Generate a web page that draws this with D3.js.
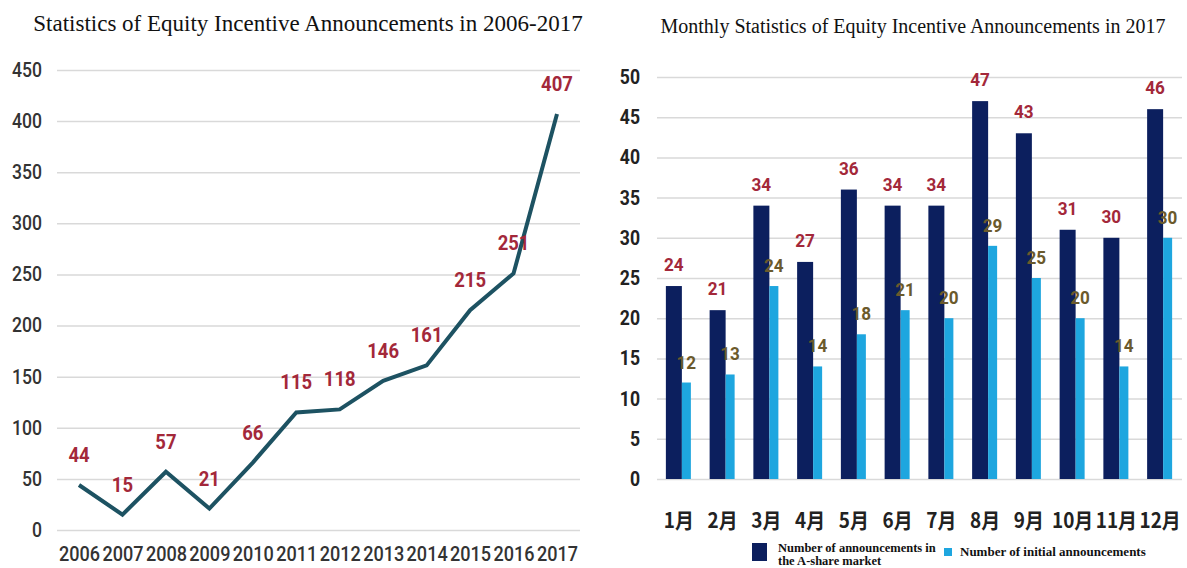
<!DOCTYPE html>
<html>
<head>
<meta charset="utf-8">
<script src="https://cdn.jsdelivr.net/npm/d3@7"></script>
<style>
  body { margin: 0; background: #fff; }
  svg { display: block; }
</style>
</head>
<body>
<svg id="chart" width="1187" height="568"></svg>
<script>
// yearly totals (left chart)
var years = ['2006','2007','2008','2009','2010','2011','2012','2013','2014','2015','2016','2017'];
var yearCounts = [44, 15, 57, 21, 66, 115, 118, 146, 161, 215, 251, 407];
var leftTicks = [0, 50, 100, 150, 200, 250, 300, 350, 400, 450];

// monthly 2017 (right chart)
var months = ['1月','2月','3月','4月','5月','6月','7月','8月','9月','10月','11月','12月'];
var aShareCounts = [24, 21, 34, 27, 36, 34, 34, 47, 43, 31, 30, 46];
var initialCounts = [12, 13, 24, 14, 18, 21, 20, 29, 25, 20, 14, 30];
var rightTicks = [0, 5, 10, 15, 20, 25, 30, 35, 40, 45, 50];

var leftTitle = 'Statistics of Equity Incentive Announcements in 2006-2017';
var rightTitle = 'Monthly Statistics of Equity Incentive Announcements in 2017';
var legendA = ['Number of announcements in', 'the A-share market'];
var legendB = 'Number of initial announcements';

var numFont = "Roboto, 'Open Sans', sans-serif";
var serif = "'Liberation Serif', 'Times New Roman', serif";
var svg = d3.select('#chart');

// the source picture is squashed sideways, so narrow the glyphs a bit
function squeeze(sel, k) {
  sel.each(function() {
    var w = this.getComputedTextLength();
    d3.select(this).attr('textLength', w * k).attr('lengthAdjust', 'spacingAndGlyphs');
  });
}

drawLine();
drawBars();

function drawLine() {
  var x = d3.scalePoint().domain(years).range([79, 557]);
  var y = d3.scaleLinear().domain([0, 450]).range([530, 70]);

  svg.append('text')
    .attr('x', 308).attr('y', 31)
    .attr('text-anchor', 'middle')
    .style('font-family', serif).style('font-size', '23px').attr('fill', '#111')
    .text(leftTitle);

  var yAxis = svg.append('g')
    .attr('transform', 'translate(57,0)')
    .call(d3.axisLeft(y).tickValues(leftTicks).tickSize(-523).tickPadding(15));
  yAxis.select('.domain').remove();
  yAxis.selectAll('line').attr('stroke', '#d9d9d9').attr('stroke-width', 1.5);
  yAxis.selectAll('text')
    .style('font-family', numFont).style('font-size', '20px').style('font-weight', '500')
    .attr('fill', '#333');
  squeeze(yAxis.selectAll('text'), 0.88);

  var xAxis = svg.append('g')
    .attr('transform', 'translate(0,530)')
    .call(d3.axisBottom(x).tickSize(0).tickPadding(16));
  xAxis.select('.domain').remove();
  xAxis.selectAll('text')
    .style('font-family', numFont).style('font-size', '21px').style('font-weight', '500')
    .attr('fill', '#333');
  squeeze(xAxis.selectAll('text'), 0.86);

  var line = d3.line()
    .x(function(d, i) { return x(years[i]); })
    .y(function(d) { return y(d); });

  svg.append('path')
    .datum(yearCounts)
    .attr('d', line)
    .attr('fill', 'none')
    .attr('stroke', '#1d5262')
    .attr('stroke-width', 4);

  var labels = svg.append('g').selectAll('text')
    .data(yearCounts)
    .enter().append('text')
    .attr('x', function(d, i) { return x(years[i]); })
    .attr('y', function(d) { return y(d) - 23; })
    .attr('text-anchor', 'middle')
    .style('font-family', numFont).style('font-size', '21px').style('font-weight', 'bold')
    .attr('fill', '#a3283a')
    .text(function(d) { return d; });
  squeeze(labels, 0.88);
}

function drawBars() {
  var x = d3.scaleBand().domain(months).range([657, 1182]);
  var y = d3.scaleLinear().domain([0, 50]).range([479, 77]);
  var half = x.bandwidth() / 2;

  svg.append('text')
    .attr('x', 913).attr('y', 33)
    .attr('text-anchor', 'middle')
    .style('font-family', serif).style('font-size', '20px').attr('fill', '#111')
    .text(rightTitle);

  var yAxis = svg.append('g')
    .attr('transform', 'translate(657,0)')
    .call(d3.axisLeft(y).tickValues(rightTicks).tickSize(-525).tickPadding(17));
  yAxis.select('.domain').remove();
  yAxis.selectAll('line').attr('stroke', '#d9d9d9').attr('stroke-width', 1.5);
  yAxis.selectAll('text')
    .style('font-family', numFont).style('font-size', '20px').style('font-weight', 'bold')
    .attr('fill', '#222');
  squeeze(yAxis.selectAll('text'), 0.88);

  var xAxis = svg.append('g')
    .attr('transform', 'translate(0,479)')
    .call(d3.axisBottom(x).tickSize(0).tickPadding(34));
  xAxis.select('.domain').remove();
  xAxis.selectAll('text')
    .style('font-family', "'Noto Sans CJK SC', sans-serif").style('font-size', '21px')
    .style('font-weight', 'bold').attr('fill', '#222');
  squeeze(xAxis.selectAll('text'), 0.9);

  // A-share bars (navy)
  svg.append('g').selectAll('rect')
    .data(aShareCounts)
    .enter().append('rect')
    .attr('x', function(d, i) { return x(months[i]) + half - 13; })
    .attr('y', function(d) { return y(d); })
    .attr('width', 16)
    .attr('height', function(d) { return y(0) - y(d); })
    .attr('fill', '#0c1f5e');

  // initial announcement bars (light blue)
  svg.append('g').selectAll('rect')
    .data(initialCounts)
    .enter().append('rect')
    .attr('x', function(d, i) { return x(months[i]) + half + 3; })
    .attr('y', function(d) { return y(d); })
    .attr('width', 9)
    .attr('height', function(d) { return y(0) - y(d); })
    .attr('fill', '#1ea6df');

  var darkLab = svg.append('g').selectAll('text')
    .data(aShareCounts)
    .enter().append('text')
    .attr('x', function(d, i) { return x(months[i]) + half - 5; })
    .attr('y', function(d) { return y(d) - 15; })
    .attr('text-anchor', 'middle')
    .style('font-family', numFont).style('font-size', '19px').style('font-weight', 'bold')
    .attr('fill', '#a3283a')
    .text(function(d) { return d; });
  squeeze(darkLab, 0.9);

  var lightLab = svg.append('g').selectAll('text')
    .data(initialCounts)
    .enter().append('text')
    .attr('x', function(d, i) { return x(months[i]) + half + 7.5; })
    .attr('y', function(d) { return y(d) - 14; })
    .attr('text-anchor', 'middle')
    .style('font-family', numFont).style('font-size', '19px').style('font-weight', 'bold')
    .attr('fill', '#6b5a2c')
    .text(function(d) { return d; });
  squeeze(lightLab, 0.9);

  // legend
  var lg = svg.append('g');
  lg.append('rect').attr('x', 752).attr('y', 543).attr('width', 15).attr('height', 18)
    .attr('fill', '#0c1f5e');
  lg.append('text').attr('x', 778).attr('y', 552)
    .style('font-family', serif).style('font-size', '12.5px').style('font-weight', 'bold')
    .attr('fill', '#111').text(legendA[0]);
  lg.append('text').attr('x', 778).attr('y', 565)
    .style('font-family', serif).style('font-size', '12.5px').style('font-weight', 'bold')
    .attr('fill', '#111').text(legendA[1]);
  lg.append('rect').attr('x', 944).attr('y', 548).attr('width', 8).attr('height', 8)
    .attr('fill', '#1ea6df');
  lg.append('text').attr('x', 960).attr('y', 556)
    .style('font-family', serif).style('font-size', '13px').style('font-weight', 'bold')
    .attr('fill', '#111').text(legendB);
}
</script>
</body>
</html>
